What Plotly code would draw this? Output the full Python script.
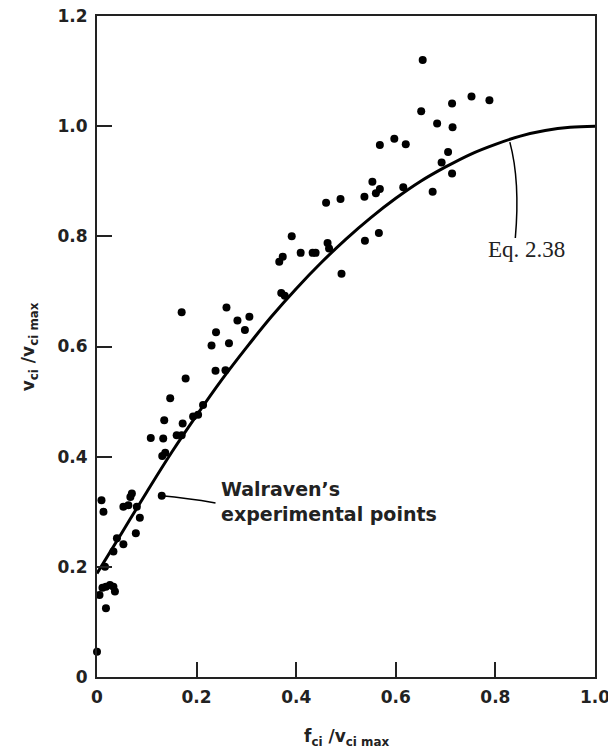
import plotly.graph_objects as go

# Walraven's experimental points
pts_x = [0.000, 0.009, 0.013, 0.018, 0.005, 0.011, 0.018, 0.026, 0.033, 0.036,
         0.016, 0.033, 0.040, 0.053, 0.078, 0.086, 0.053, 0.063, 0.070, 0.067,
         0.080, 0.130, 0.108, 0.133, 0.160, 0.170, 0.131, 0.137, 0.135, 0.147,
         0.172, 0.193, 0.203, 0.213, 0.178, 0.170, 0.238, 0.258, 0.230, 0.265,
         0.239, 0.297, 0.282, 0.306, 0.260, 0.370, 0.377, 0.366, 0.373, 0.391,
         0.409, 0.433, 0.439, 0.463, 0.466, 0.491, 0.460, 0.489, 0.537, 0.538,
         0.566, 0.553, 0.568, 0.560, 0.615, 0.674, 0.692, 0.705, 0.713, 0.568,
         0.597, 0.620, 0.651, 0.683, 0.714, 0.654, 0.713, 0.752, 0.788]
pts_y = [0.046, 0.321, 0.300, 0.125, 0.149, 0.162, 0.164, 0.167, 0.164, 0.155,
         0.200, 0.228, 0.252, 0.241, 0.261, 0.289, 0.309, 0.312, 0.333, 0.327,
         0.309, 0.329, 0.434, 0.433, 0.439, 0.439, 0.401, 0.407, 0.466, 0.506,
         0.460, 0.473, 0.476, 0.494, 0.542, 0.662, 0.556, 0.557, 0.602, 0.606,
         0.626, 0.630, 0.647, 0.654, 0.671, 0.697, 0.692, 0.754, 0.763, 0.800,
         0.770, 0.770, 0.770, 0.788, 0.778, 0.732, 0.861, 0.868, 0.872, 0.792,
         0.806, 0.899, 0.886, 0.878, 0.889, 0.881, 0.934, 0.953, 0.914, 0.966,
         0.977, 0.967, 1.027, 1.005, 0.998, 1.120, 1.041, 1.054, 1.047]

# Eq. 2.38 curve
curve_x = [0.00, 0.05, 0.10, 0.15, 0.20, 0.25, 0.30, 0.35, 0.40, 0.45, 0.50,
           0.55, 0.60, 0.65, 0.70, 0.75, 0.80, 0.85, 0.90, 0.95, 1.00]
curve_y = [0.188, 0.262, 0.336, 0.408, 0.475, 0.539, 0.598, 0.654, 0.705, 0.752, 0.795,
           0.834, 0.869, 0.900, 0.926, 0.949, 0.967, 0.982, 0.992, 0.998, 1.000]

x_ticks = [0, 0.2, 0.4, 0.6, 0.8, 1.0]
x_tick_text = ["0", "0.2", "0.4", "0.6", "0.8", "1.0"]
y_ticks = [0, 0.2, 0.4, 0.6, 0.8, 1.0, 1.2]
y_tick_text = ["0", "0.2", "0.4", "0.6", "0.8", "1.0", "1.2"]

fig = go.Figure()
fig.add_trace(go.Scatter(x=curve_x, y=curve_y, mode="lines",
                         line=dict(color="black", width=3, shape="spline"),
                         hoverinfo="skip", showlegend=False, cliponaxis=False))
fig.add_trace(go.Scatter(x=pts_x, y=pts_y, mode="markers",
                         marker=dict(color="black", size=8),
                         showlegend=False, cliponaxis=False))

# pointer lines
fig.add_shape(type="path", xref="x", yref="y",
              path="M 0.130 0.329 Q 0.18 0.325 0.238 0.316",
              line=dict(color="black", width=1.5))
fig.add_shape(type="path", xref="x", yref="y",
              path="M 0.829 0.971 Q 0.850 0.900 0.840 0.797",
              line=dict(color="black", width=1.5))

sans = "DejaVu Sans"
fig.add_annotation(x=0.244, y=0.318, xref="x", yref="y", xanchor="left", yanchor="middle",
                   text="<b>Walraven’s<br>experimental points</b>", showarrow=False, align="left",
                   font=dict(family=sans, size=19, color="#222"))
fig.add_annotation(x=0.862, y=0.777, xref="x", yref="y", xanchor="center", yanchor="middle",
                   text="Eq. 2.38", showarrow=False,
                   font=dict(family="Liberation Serif", size=23, color="#222"))

# axis titles
fig.add_annotation(x=-0.135, y=0.5, xref="paper", yref="paper", textangle=-90,
                   xanchor="center", yanchor="middle", showarrow=False,
                   text="<b>v<sub>ci</sub> /v<sub>ci max</sub></b>",
                   font=dict(family=sans, size=17, color="#222"))
fig.add_annotation(x=0.5, y=-0.092, xref="paper", yref="paper",
                   xanchor="center", yanchor="middle", showarrow=False,
                   text="<b>f<sub>ci</sub> /v<sub>ci max</sub></b>",
                   font=dict(family=sans, size=17, color="#222"))

axis_common = dict(showgrid=False, zeroline=False, showline=True, linecolor="#222",
                   linewidth=2, mirror=True, ticks="inside", ticklen=15, tickwidth=1.5,
                   tickcolor="#222", automargin=False, ticklabeloverflow="allow",
                   tickfont=dict(family=sans, size=17, color="#222", weight="bold"))

fig.update_xaxes(range=[0, 1.0], tickvals=x_ticks, ticktext=x_tick_text,
                 ticklabelstandoff=4, **axis_common)
fig.update_yaxes(range=[0, 1.2], tickvals=y_ticks, ticktext=y_tick_text,
                 ticklabelstandoff=4, **axis_common)

# the page body adds an 8px offset, so the figure is sized to fit the window
fig.update_layout(width=608, height=745,
                  margin=dict(l=89, r=21, t=8, b=76),
                  plot_bgcolor="white", paper_bgcolor="white")

fig.write_html("out.html")
